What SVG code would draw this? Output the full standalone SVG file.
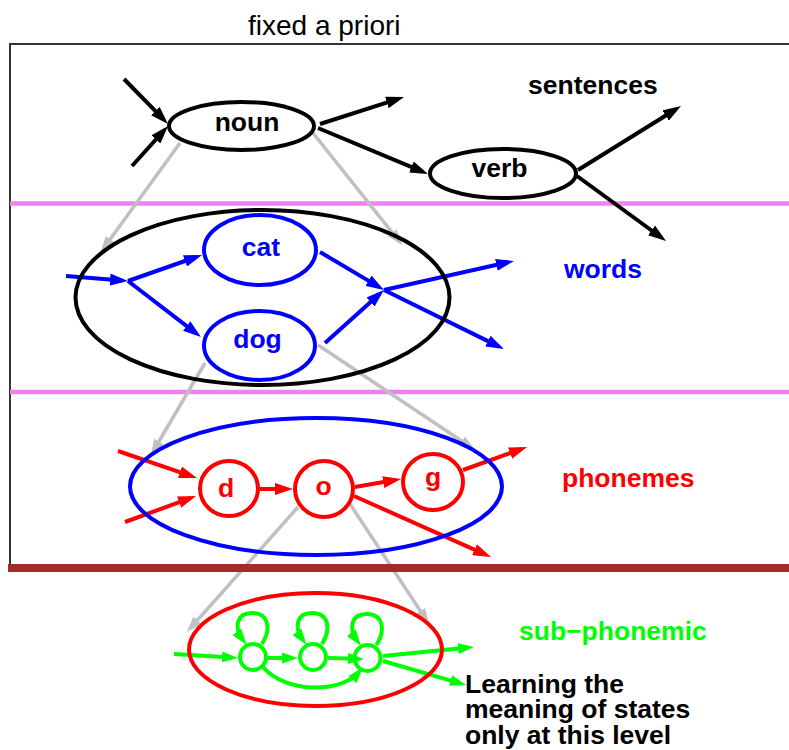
<svg xmlns="http://www.w3.org/2000/svg" width="789" height="750" viewBox="0 0 789 750">
<style>
  .lbl { font-family: "Liberation Sans", Arial, sans-serif; font-weight: bold; font-size: 26.5px; }
  .title { font-family: "Liberation Sans", Arial, sans-serif; font-size: 28px; fill: #000; }
  .ell { fill: none; stroke-width: 4; }
  .k { stroke: #000; }
  .b { stroke: #0000ff; }
  .r { stroke: #ff0000; }
  .g { stroke: #00ff00; }
  .ak { stroke: #000; stroke-width: 4; fill: none; marker-end: url(#hk); }
  .ab { stroke: #0000ff; stroke-width: 4; fill: none; marker-end: url(#hb); }
  .ar { stroke: #ff0000; stroke-width: 4; fill: none; marker-end: url(#hr); }
  .ag { stroke: #00ff00; stroke-width: 4; fill: none; marker-end: url(#hg); }
  .agr { stroke: #c0c0c0; stroke-width: 3.5; fill: none; marker-end: url(#hgr); }
</style>
<defs>
  <marker id="hk" markerUnits="userSpaceOnUse" viewBox="0 0 18 12" refX="12" refY="6" markerWidth="18" markerHeight="12" orient="auto"><path d="M0,0 L18,6 L0,12 z" fill="#000"/></marker>
  <marker id="hb" markerUnits="userSpaceOnUse" viewBox="0 0 18 12" refX="12" refY="6" markerWidth="18" markerHeight="12" orient="auto"><path d="M0,0 L18,6 L0,12 z" fill="#0000ff"/></marker>
  <marker id="hr" markerUnits="userSpaceOnUse" viewBox="0 0 18 12" refX="12" refY="6" markerWidth="18" markerHeight="12" orient="auto"><path d="M0,0 L18,6 L0,12 z" fill="#ff0000"/></marker>
  <marker id="hg" markerUnits="userSpaceOnUse" viewBox="0 0 16 11" refX="10.2" refY="5.5" markerWidth="16" markerHeight="11" orient="auto"><path d="M0,0 L16,5.5 L0,11 z" fill="#00ff00"/></marker>
  <marker id="hgr" markerUnits="userSpaceOnUse" viewBox="0 0 16 11" refX="10.5" refY="5.5" markerWidth="16" markerHeight="11" orient="auto"><path d="M0,0 L16,5.5 L0,11 z" fill="#c0c0c0"/></marker>
</defs>
<rect width="789" height="750" fill="#fff"/>

<text class="title" x="248" y="35">fixed a priori</text>

<g id="frame">
  <line x1="9" y1="44" x2="789" y2="44" stroke="#333" stroke-width="2"/>
  <line x1="10" y1="43" x2="10" y2="568" stroke="#333" stroke-width="2"/>
</g>

<g id="level-separators">
  <line x1="10" y1="203.5" x2="789" y2="203.5" stroke="#ee82ee" stroke-width="4.5"/>
  <line x1="10" y1="392" x2="789" y2="392" stroke="#ee82ee" stroke-width="4.5"/>
</g>

<g id="connectors">
  <!-- sentence level -->
  <line class="ak" x1="124" y1="79" x2="163.8" y2="119.7"/>
  <line class="ak" x1="132" y1="166" x2="164" y2="130.5"/>
  <line class="ak" x1="320" y1="124" x2="398.3" y2="98.8"/>
  <line class="ak" x1="318" y1="128" x2="422.5" y2="171.7"/>
  <line class="ak" x1="578" y1="170" x2="675.9" y2="109.2"/>
  <line class="ak" x1="577" y1="176" x2="661.2" y2="237.5"/>
  <!-- expansion arrows -->
  <line class="agr" x1="180" y1="143" x2="104" y2="247.8"/>
  <line class="agr" x1="313" y1="133" x2="398.8" y2="240.9"/>
  <line class="agr" x1="205" y1="363" x2="153.6" y2="450.5"/>
  <line class="agr" x1="318" y1="345" x2="470.6" y2="447"/>
  <line class="agr" x1="298" y1="507" x2="190.5" y2="628"/>
  <line class="agr" x1="350" y1="504" x2="426.2" y2="619.7"/>
  <!-- word level -->
  <line class="ab" x1="66" y1="276" x2="122" y2="280.5"/>
  <line class="ab" x1="128" y1="281" x2="196.3" y2="257"/>
  <line class="ab" x1="128" y1="281" x2="196.2" y2="333.3"/>
  <line class="ab" x1="320" y1="252" x2="378.8" y2="286.9"/>
  <line class="ab" x1="325" y1="343" x2="379.5" y2="294"/>
  <line class="ab" x1="384" y1="290" x2="508.1" y2="262.3"/>
  <line class="ab" x1="384" y1="290" x2="498.6" y2="346.4"/>
  <!-- phoneme level -->
  <line class="ar" x1="118" y1="451" x2="191.3" y2="476.1"/>
  <line class="ar" x1="125" y1="522" x2="190.4" y2="498.1"/>
  <line class="ar" x1="258" y1="489" x2="287" y2="489"/>
  <line class="ar" x1="355" y1="487" x2="395.1" y2="480"/>
  <line class="ar" x1="463" y1="470" x2="521.4" y2="449"/>
  <line class="ar" x1="354" y1="496" x2="485.5" y2="554.6"/>
  <!-- sub-phonemic level -->
  <line class="ag" x1="174" y1="654" x2="232.2" y2="657.6"/>
  <line class="ag" x1="268" y1="658" x2="292.2" y2="658"/>
  <line class="ag" x1="328" y1="658" x2="358.2" y2="658.8"/>
  <line class="ag" x1="383" y1="656" x2="468.2" y2="647.6"/>
  <line class="ag" x1="383" y1="661" x2="460.4" y2="683.4"/>
  <path class="ag" d="M262 644 C272 628 268 613 252 613 C236 613 234 628 243 640"/>
  <path class="ag" d="M322 644 C332 628 328 613 312 613 C296 613 294 628 303 640"/>
  <path class="ag" d="M376.5 645 C386.5 629 382.5 614 366.5 614 C350.5 614 348.5 629 357.5 641"/>
  <path class="ag" d="M263 667 C285 693 340 694 359 672"/>
</g>

<g id="noun">
  <ellipse class="ell k" cx="241.5" cy="126" rx="72.5" ry="24"/>
  <text class="lbl" x="247" y="131" text-anchor="middle">noun</text>
</g>
<g id="verb">
  <ellipse class="ell k" cx="503" cy="173.5" rx="73" ry="24.5"/>
  <text class="lbl" x="499.5" y="177" text-anchor="middle">verb</text>
</g>
<g id="sentences-label">
  <text class="lbl" x="528" y="94">sentences</text>
</g>

<g id="noun-model">
  <ellipse class="ell k" cx="262.5" cy="297.5" rx="187" ry="87.5"/>
</g>
<g id="cat">
  <ellipse class="ell b" cx="260" cy="250" rx="56" ry="35"/>
  <text class="lbl" x="261" y="256" text-anchor="middle" fill="#0000ff">cat</text>
</g>
<g id="dog">
  <ellipse class="ell b" cx="259.5" cy="345.5" rx="55.5" ry="34.5"/>
  <text class="lbl" x="257.5" y="348" text-anchor="middle" fill="#0000ff">dog</text>
</g>
<g id="words-label">
  <text class="lbl" x="564" y="278" fill="#0000ff">words</text>
</g>

<g id="dog-model">
  <ellipse class="ell b" cx="316" cy="486.5" rx="186" ry="68.5"/>
</g>
<g id="d">
  <ellipse class="ell r" cx="229" cy="488.5" rx="29" ry="27.5"/>
  <text class="lbl" x="226" y="497" text-anchor="middle" fill="#ff0000">d</text>
</g>
<g id="o">
  <ellipse class="ell r" cx="324" cy="489" rx="29" ry="28"/>
  <text class="lbl" x="323.5" y="495" text-anchor="middle" fill="#ff0000">o</text>
</g>
<g id="g">
  <ellipse class="ell r" cx="433" cy="482" rx="30" ry="28"/>
  <text class="lbl" x="433" y="486" text-anchor="middle" fill="#ff0000">g</text>
</g>
<g id="phonemes-label">
  <text class="lbl" x="562" y="487" fill="#ff0000">phonemes</text>
</g>

<g id="o-model">
  <ellipse class="ell r" cx="315.5" cy="649.5" rx="126.5" ry="56.5"/>
</g>
<g id="s1"><circle class="ell g" cx="253" cy="657" r="13"/></g>
<g id="s2"><circle class="ell g" cx="313" cy="657" r="13"/></g>
<g id="s3"><circle class="ell g" cx="367.5" cy="658" r="13"/></g>
<g id="subphonemic-label">
  <text class="lbl" x="519" y="640" fill="#00ff00">sub−phonemic</text>
</g>
<g id="note">
  <text class="lbl" fill="#000"><tspan x="465" y="693">Learning the</tspan><tspan x="465" y="718">meaning of states</tspan><tspan x="465" y="744">only at this level</tspan></text>
</g>

<g id="level-boundary">
  <line x1="8" y1="568" x2="789" y2="568" stroke="#a52a2a" stroke-width="8"/>
</g>
</svg>
